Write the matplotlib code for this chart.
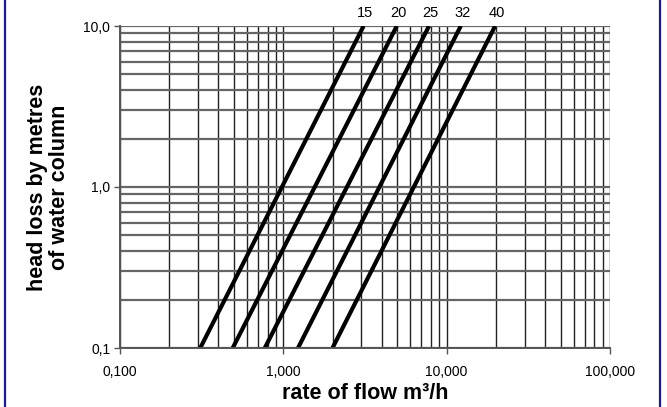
import numpy as np
import matplotlib.pyplot as plt
from matplotlib.lines import Line2D
from matplotlib.ticker import FixedLocator, FixedFormatter, NullFormatter

# nominal sizes and the straight (log-log) curve end points
sizes = ["15", "20", "25", "32", "40"]
head_ends = [0.1, 10.0]  # m of water column
flow_low = [0.31, 0.49, 0.77, 1.23, 2.0]  # m3/h at 0.1 m
flow_high = [3.1, 4.95, 7.8, 12.2, 19.8]  # m3/h at 10 m

x_ticks = [0.1, 1, 10, 100]
x_labels = ["0,100", "1,000", "10,000", "100,000"]
y_ticks = [0.1, 1, 10]
y_labels = ["0,1", "1,0", "10,0"]


def main():
    plt.rcParams.update(
        {
            "font.family": ["Liberation Sans", "DejaVu Sans"],
            "xtick.labelsize": 10,
            "ytick.labelsize": 10,
        }
    )

    fig = plt.figure(figsize=(6.67, 4.07), dpi=100)
    ax = fig.add_axes([120 / 667, 1 - 348 / 407, 490 / 667, 322 / 407])

    ax.set_xscale("log")
    ax.set_yscale("log")
    ax.set_xlim(0.1, 100)
    ax.set_ylim(0.1, 10)

    ax.grid(which="both", axis="x", color="#222222", linewidth=1.0)
    ax.grid(which="both", axis="y", color="#666666", linewidth=1.6)
    ax.set_axisbelow(True)

    for lo, hi in zip(flow_low, flow_high):
        ax.plot([lo, hi], head_ends, color="black", linewidth=3.0,
                solid_capstyle="butt")

    for name, hi in zip(sizes, flow_high):
        ax.annotate(name, xy=(hi, head_ends[1]), xytext=(1, 4),
                    textcoords="offset points", ha="center", va="bottom",
                    fontsize=10.5, annotation_clip=False)

    ax.xaxis.set_major_locator(FixedLocator(x_ticks))
    ax.xaxis.set_major_formatter(FixedFormatter(x_labels))
    ax.xaxis.set_minor_formatter(NullFormatter())
    ax.yaxis.set_major_locator(FixedLocator(y_ticks))
    ax.yaxis.set_major_formatter(FixedFormatter(y_labels))
    ax.yaxis.set_minor_formatter(NullFormatter())
    ax.tick_params(which="major", direction="out", length=4, color="#555555",
                   width=1.0)
    ax.tick_params(axis="x", which="major", pad=8)
    ax.tick_params(axis="y", which="major", pad=3)
    ax.tick_params(which="minor", length=0)

    for side in ["top", "right"]:
        ax.spines[side].set_visible(False)
    for side in ["left", "bottom"]:
        ax.spines[side].set_color("#555555")
        ax.spines[side].set_linewidth(1.4)

    ax.set_xlabel("rate of flow m\u00b3/h", fontsize=15.5, fontweight="bold",
                  labelpad=3)
    ax.set_ylabel("head loss by metres\nof water column", fontsize=15.5,
                  fontweight="bold", labelpad=10, linespacing=1.05)

    # title, mostly cut off at the top edge as in the source
    fig.text(38 / 667, 1 + 3 / 407, "Head loss curve", fontsize=16,
             fontweight="bold", ha="left", va="baseline", color="#333333")

    # blue frame lines left and right
    for xf in [5 / 667, 660 / 667]:
        fig.add_artist(Line2D([xf, xf], [0, 1], transform=fig.transFigure,
                              color="#1a1a99", linewidth=1.6))

    fig.savefig("out.png", dpi=100)


if __name__ == "__main__":
    main()
